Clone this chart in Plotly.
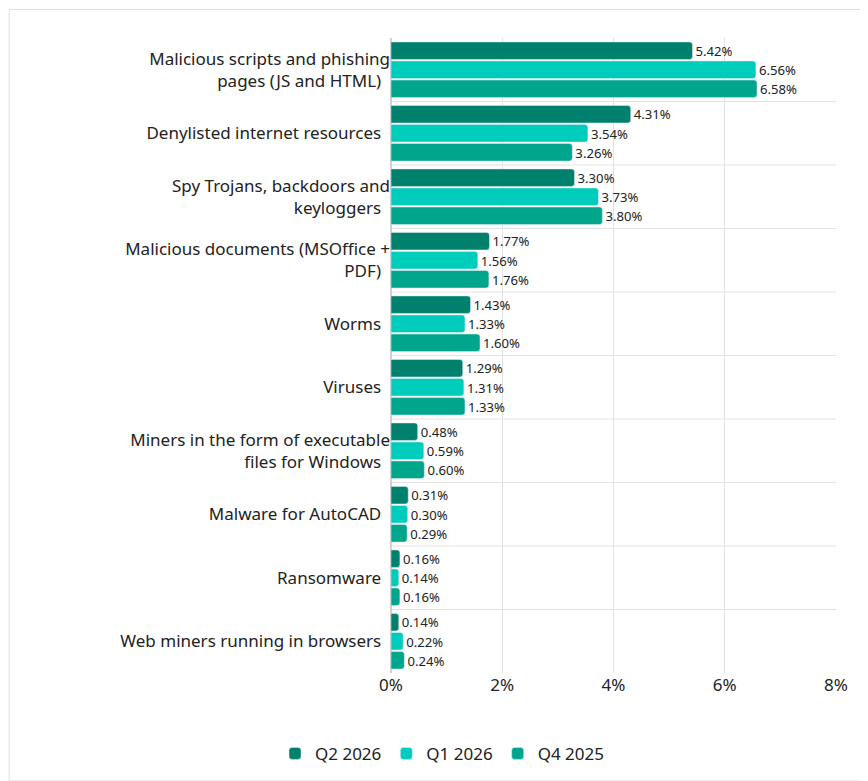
import plotly.graph_objects as go

categories = [
    "Malicious scripts and phishing<br>pages (JS and HTML)",
    "Denylisted internet resources",
    "Spy Trojans, backdoors and<br>keyloggers",
    "Malicious documents (MSOffice +<br>PDF)",
    "Worms",
    "Viruses",
    "Miners in the form of executable<br>files for Windows",
    "Malware for AutoCAD",
    "Ransomware",
    "Web miners running in browsers",
]
q2_2026 = [5.42, 4.31, 3.30, 1.77, 1.43, 1.29, 0.48, 0.31, 0.16, 0.14]
q1_2026 = [6.56, 3.54, 3.73, 1.56, 1.33, 1.31, 0.59, 0.30, 0.14, 0.22]
q4_2025 = [6.58, 3.26, 3.80, 1.76, 1.60, 1.33, 0.60, 0.29, 0.16, 0.24]

series = [("Q2 2026", q2_2026, "#00816D"), ("Q1 2026", q1_2026, "#00CCBB"), ("Q4 2025", q4_2025, "#00A68C")]
pos = list(range(len(categories)))

fig = go.Figure()
for name, vals, color in series:
    fig.add_trace(go.Bar(
        y=pos, x=vals, name=name, orientation="h",
        marker=dict(color=color, cornerradius=3),
        text=[f"{v:.2f}%" for v in vals], textposition="outside",
        textfont=dict(size=15, color="#222"), cliponaxis=False,
    ))

# separators between categories
for i in pos[:-1]:
    fig.add_shape(type="line", xref="paper", yref="y", x0=0, x1=1, y0=i + 0.5, y1=i + 0.5,
                  line=dict(color="#E2E2E2", width=1), layer="below")
# outer border
fig.add_shape(type="rect", xref="paper", yref="paper", x0=-0.858, x1=1.088, y0=-0.17, y1=1.045,
              line=dict(color="#DDDDDD", width=1))

fig.update_layout(
    width=868, height=781,
    font=dict(family="Noto Sans", size=17, color="#222"),
    plot_bgcolor="white", paper_bgcolor="white",
    margin=dict(l=383, r=40, t=30, b=116, autoexpand=False),
    barmode="group", bargap=0.1, bargroupgap=0.08,
    showlegend=True,
    legend=dict(orientation="h", xref="container", yref="container", x=0.5, xanchor="center",
                y=0.045, yanchor="middle", font=dict(size=17)),
)
fig.update_xaxes(range=[0, 8], dtick=2, ticksuffix="%", showgrid=True, gridcolor="#E2E2E2",
                 zeroline=True, zerolinecolor="#D0D0D0", tickfont=dict(size=17))
fig.update_yaxes(range=[len(categories) - 0.5, -0.5], tickvals=pos,
                 ticktext=[c + "  " for c in categories], showgrid=False, zeroline=False)

fig.write_html("out.html")
